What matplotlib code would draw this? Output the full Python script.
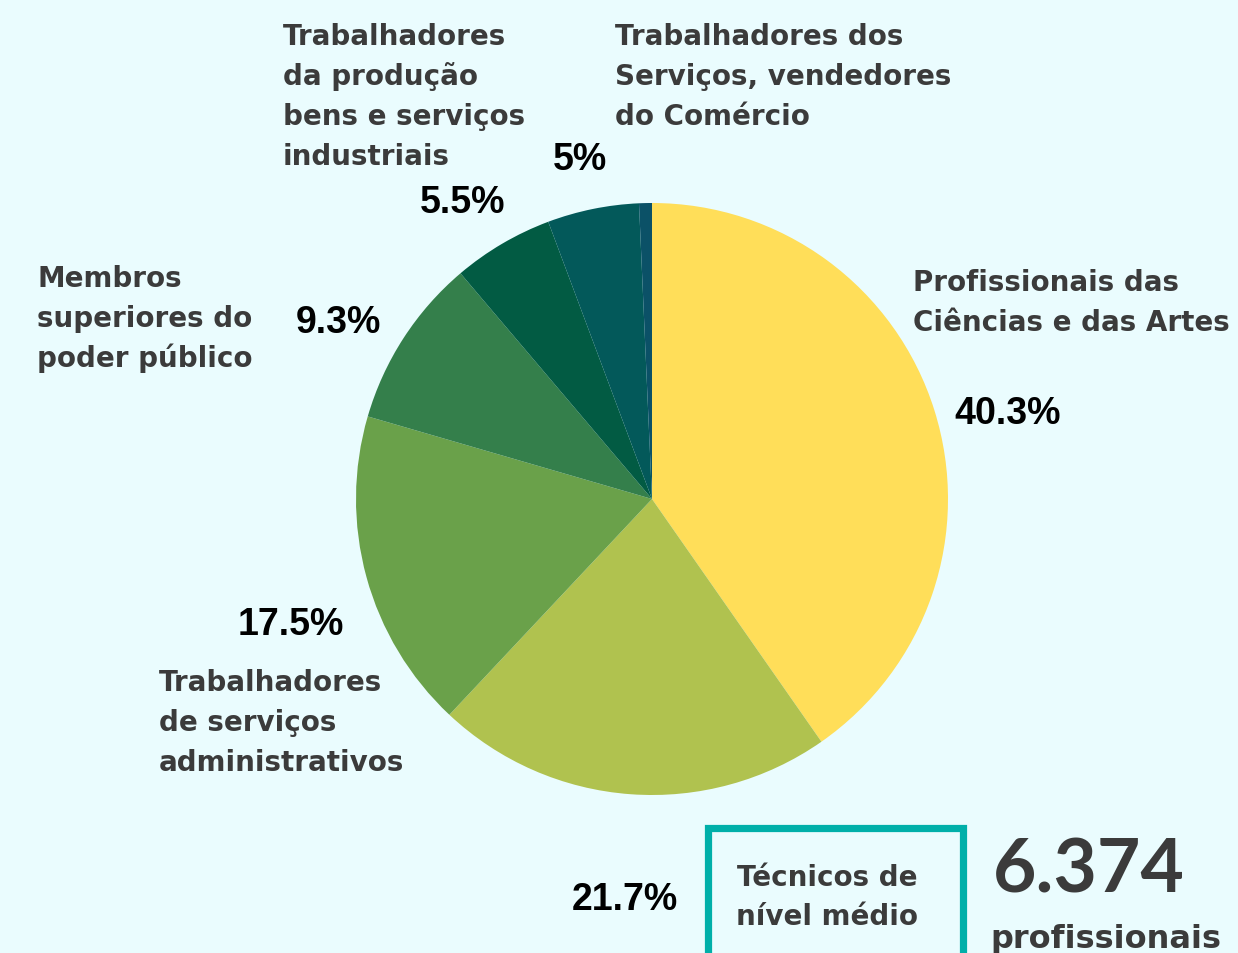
import matplotlib
matplotlib.use("Agg")
import matplotlib.pyplot as plt
from matplotlib.patches import Rectangle

# ---- data ----
categories = [
    "Profissionais das Ciências e das Artes",
    "Técnicos de nível médio",
    "Trabalhadores de serviços administrativos",
    "Membros superiores do poder público",
    "Trabalhadores da produção bens e serviços industriais",
    "Trabalhadores dos Serviços, vendedores do Comércio",
    "Outros",
]
shares = [40.3, 21.7, 17.5, 9.3, 5.5, 5.0, 0.7]
pct_labels = ["40.3%", "21.7%", "17.5%", "9.3%", "5.5%", "5%", ""]
total_label = "6.374"
total_unit = "profissionais"

# ---- style ----
colors = ["#FFDE59", "#B0C24F", "#6AA14A", "#347F4B", "#025B43", "#03595A", "#0B5167"]
BG = "#EAFCFE"
TXT = "#3B3B3B"
W, H = 1238, 954

fig = plt.figure(figsize=(W / 100, H / 100), dpi=100, facecolor=BG)
ax = fig.add_axes([0, 0, 1, 1])
ax.set_facecolor(BG)

cx, cy, R = 652, 500, 296
ax.pie(shares, colors=colors, startangle=90, counterclock=False,
       center=(cx, H - cy), radius=R, wedgeprops=dict(linewidth=0),
       frame=True)
ax.set_xlim(0, W)
ax.set_ylim(0, H)
ax.set_aspect("equal")
ax.axis("off")

lab_font = dict(family=["DejaVu Sans"], fontweight="bold", color=TXT, fontsize=20)
pct_font = dict(family=["Liberation Sans", "DejaVu Sans"], fontweight="bold", color="black", fontsize=27)

def lines(x, baselines, texts, ha="left"):
    for b, t in zip(baselines, texts):
        ax.text(x, H - b, t, ha=ha, va="baseline", **lab_font)

lines(283, [45, 85, 125, 165], ["Trabalhadores", "da produção", "bens e serviços", "industriais"])
lines(615, [45, 85, 125], ["Trabalhadores dos", "Serviços, vendedores", "do Comércio"])
lines(37, [287, 327, 367], ["Membros", "superiores do", "poder público"])
lines(913, [291, 331], ["Profissionais das", "Ciências e das Artes"])
lines(159, [691, 731, 771], ["Trabalhadores", "de serviços", "administrativos"])
lines(827, [886, 925], ["Técnicos de", "nível médio"], ha="center")

# percentage labels (centres, px)
pct_pos = [(1008, 414), (625, 900), (291, 625), (338, 323), (463, 203), (580, 160), (0, 0)]
for (px, py), t in zip(pct_pos, pct_labels):
    if t:
        ax.text(px, H - py, t, ha="center", va="center", **pct_font)

# box
ax.add_patch(Rectangle((707.5, H - 1000), 255, 1000 - 828.5, fill=False,
                       edgecolor="#00AFA9", linewidth=5.2, clip_on=True))

ax.text(993, H - 893, total_label, ha="left", va="baseline",
        family=["Lato", "DejaVu Sans"], fontweight="bold", color=TXT, fontsize=54)
ax.text(990, H - 948, total_unit, ha="left", va="baseline",
        family=["DejaVu Sans"], fontweight="bold", color=TXT, fontsize=23)

fig.savefig("out.png", dpi=100, facecolor=BG)
